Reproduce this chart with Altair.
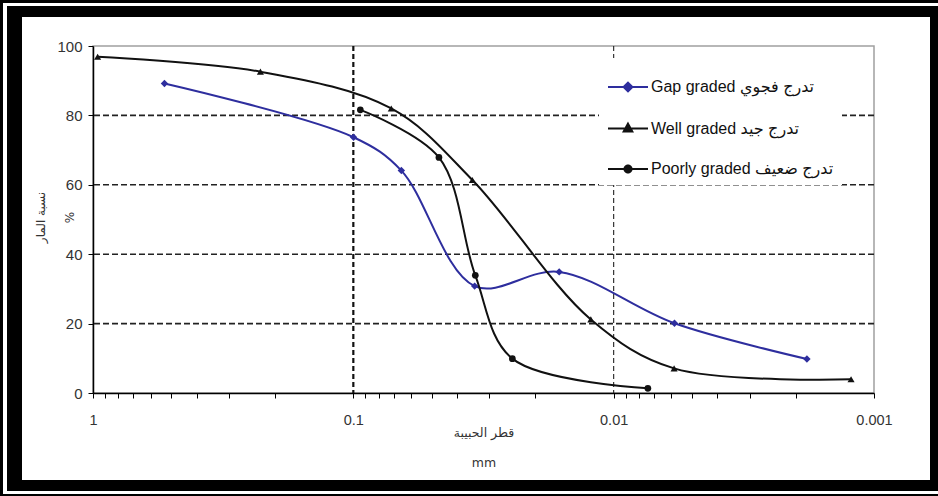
import math
import altair as alt
import pandas as pd

# ---------------- data ----------------
SERIES = ["Gap graded تدرج فجوي", "Well graded تدرج جيد", "Poorly graded تدرج ضعيف"]

GAP_D = [0.5315, 0.0998, 0.0654, 0.0342, 0.01619, 0.00584, 0.00181]
GAP_P = [89.2, 73.7, 64.1, 30.8, 34.9, 20.1, 9.8]

WELL_D = [0.96, 0.2275, 0.0715, 0.0349, 0.01224, 0.00586, 0.001225]
WELL_P = [96.9, 92.6, 82.0, 61.4, 21.2, 7.1, 3.95]

POOR_D = [0.094, 0.0469, 0.034, 0.0245, 0.00739]
POOR_P = [81.6, 67.9, 33.9, 9.9, 1.35]

Y_TICKS = [0, 20, 40, 60, 80, 100]
Y_GRID = [20, 40, 60, 80]
X_GRID_BOLD = [0.1]
X_GRID_THIN = [0.01]
X_LABELS = ["1", "0.1", "0.01", "0.001"]
X_TITLE = ["قطر الحبيبة", "mm"]
Y_TITLE = ["نسبة المار", "%"]

# ---------------- layout / style ----------------
OX, OY = 93, 46          # plot origin in the page
W, H = 781, 347          # plot size
BLUE = "#2E2E9E"
BLACK = "#111111"
COLORS = [BLUE, BLACK, BLACK]
SHAPES = ["diamond", "triangle-up", "circle"]
SIZES = [55, 50, 45]
LATIN = "Liberation Sans, Arial, DejaVu Sans"
ARABIC = "DejaVu Sans, Liberation Sans"

rows = []
for name, ds, ps in zip(SERIES, [GAP_D, WELL_D, POOR_D], [GAP_P, WELL_P, POOR_P]):
    for d, p in zip(ds, ps):
        rows.append({"series": name, "d": d, "p": p})
df = pd.DataFrame(rows)

# log minor tick values 1, 0.9 ... 0.002, 0.001
x_ticks = [round(k * 10 ** (-e - 1), 6) for e in range(3) for k in range(10, 1, -1)] + [0.001]
label_expr = " : ".join(f"datum.value == {v} ? '{v}'" for v in X_LABELS) + " : ''"

xs = alt.Scale(type="log", domain=[0.001, 1], reverse=True, nice=False)
ys = alt.Scale(domain=[0, 100], nice=False, zero=False)

x_axis = alt.Axis(
    values=x_ticks, labelExpr=label_expr, tickSize=5, tickColor="#000", tickWidth=1,
    domainColor="#000", domainWidth=1.5, labelFontSize=14.5, labelColor="#333",
    labelFont=LATIN, labelPadding=15, labelFlush=False, labelOverlap=False, grid=False,
    title=X_TITLE, titleFont=ARABIC, titleFontSize=12.5, titleFontWeight="normal",
    titleColor="#333", titleLineHeight=30, titleBaseline="top", titleY=33,
)
y_axis = alt.Axis(
    values=Y_TICKS, tickSize=5, tickColor="#000", tickWidth=1, domainColor="#000",
    domainWidth=1.5, labelFontSize=15, labelColor="#333", labelFont=LATIN,
    labelPadding=6, grid=False,
    title=Y_TITLE, titleFont=ARABIC, titleFontSize=12, titleFontWeight="normal",
    titleColor="#333", titleAngle=270, titleBaseline="top", titleAlign="center",
    titleX=-58, titleY=171, titleLineHeight=29,
)

X = alt.X("d:Q", scale=xs, axis=x_axis)
Y = alt.Y("p:Q", scale=ys, axis=y_axis)

base = alt.Chart(df)

# ---------------- picture frame (decoration) ----------------
FRAME = [
    (0, 938, 0, 3), (0, 3, 0, 496), (0, 938, 494, 496),
    (7, 938, 6, 17), (7, 22, 6, 491), (7, 938, 480, 491), (930, 938, 6, 491),
]
frames = []
for x1, x2, y1, y2 in FRAME:
    frames.append(
        alt.Chart(alt.Data(values=[{"b": 1}])).mark_rect(color="#000").encode(
            x=alt.value(x1 - OX), x2=alt.value(x2 - OX),
            y=alt.value(y1 - OY), y2=alt.value(y2 - OY),
        )
    )

# ---------------- grid lines ----------------
hgrid = alt.Chart(pd.DataFrame({"p": Y_GRID})).mark_rule(
    color="#222", strokeWidth=1.6, strokeDash=[6, 3]
).encode(y=Y)
vgrid_bold = alt.Chart(pd.DataFrame({"d": X_GRID_BOLD})).mark_rule(
    color="#111", strokeWidth=2.2, strokeDash=[5, 3]
).encode(x=X)
vgrid_thin = alt.Chart(pd.DataFrame({"d": X_GRID_THIN})).mark_rule(
    color="#222", strokeWidth=1.1, strokeDash=[5, 3]
).encode(x=X)

# ---------------- curves and markers (one layer per series) ----------------
series_layers = []
for name, col, shp, sz in zip(SERIES, COLORS, SHAPES, SIZES):
    sub = base.transform_filter(alt.datum.series == name)
    series_layers.append(
        sub.mark_line(interpolate="catmull-rom", strokeWidth=2, color=col).encode(x=X, y=Y)
    )
    series_layers.append(
        sub.mark_point(filled=True, shape=shp, size=sz, opacity=1, color=col).encode(x=X, y=Y)
    )

# ---------------- legend (line + marker symbols) ----------------
def polygon(r, n, cy=0.0):
    pts_ = [(r * math.cos(2 * math.pi * i / n), cy + r * math.sin(2 * math.pi * i / n)) for i in range(n)]
    return "M" + "L".join(f"{x:.3f},{y:.3f}" for x, y in pts_) + "Z"

def diamond(r):
    return f"M0,{-r}L{r},0L0,{r}L{-r},0Z"

def triangle(r):
    return f"M0,{-r}L{0.9 * r:.3f},{0.64 * r:.3f}L{-0.9 * r:.3f},{0.64 * r:.3f}Z"

SEG = "M-1,0L1,0"
LEG_PATHS = [
    SEG + diamond(0.22) + diamond(0.15) + diamond(0.08),
    SEG + triangle(0.24) + triangle(0.16) + triangle(0.08),
    SEG + polygon(0.18, 14) + polygon(0.11, 10) + polygon(0.04, 6),
]
leg = alt.Legend(
    title=None, orient="none", legendX=506, legendY=12, fillColor="#ffffff",
    padding=8, symbolSize=1600, symbolStrokeWidth=2, symbolOpacity=1,
    labelFontSize=16, labelFont=LATIN, labelColor="#111", labelOffset=2,
    labelLimit=400, rowPadding=11.5,
)
legend_layer = base.mark_point(filled=False, size=0, strokeWidth=2, opacity=1).encode(
    x=X, y=Y,
    color=alt.Color("series:N", scale=alt.Scale(domain=SERIES, range=COLORS), legend=leg),
    shape=alt.Shape("series:N", scale=alt.Scale(domain=SERIES, range=LEG_PATHS), legend=leg),
)

chart = alt.layer(
    *frames, hgrid, vgrid_bold, vgrid_thin, *series_layers, legend_layer
).properties(
    width=W, height=H,
    padding={"left": OX, "top": OY, "right": 938 - OX - W, "bottom": 496 - OY - H},
    autosize=alt.AutoSizeParams(type="none"),
    background="#ffffff",
).configure_view(stroke="#A0A0A0", strokeWidth=1.5)

chart.save("out.html", embed_options={"renderer": "svg", "actions": False})
